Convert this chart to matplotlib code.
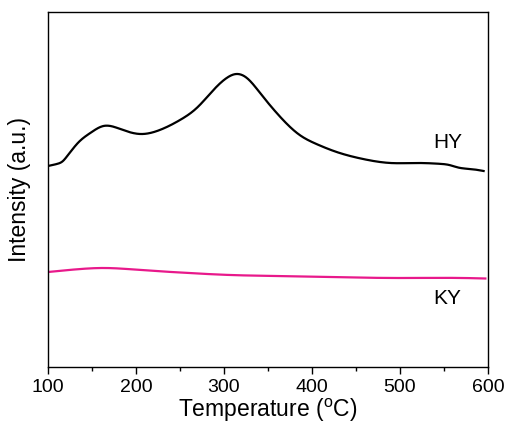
import matplotlib
matplotlib.use("Agg")
import matplotlib.pyplot as plt
import numpy as np
from matplotlib.ticker import MultipleLocator

plt.rcParams['font.family'] = ['Liberation Sans', 'DejaVu Sans']

hy_T = [100, 110, 117, 121, 135, 148, 163, 182, 205, 227, 250, 269, 288, 303, 314, 326,
        341, 364, 386, 405, 428, 458, 489, 519, 545, 556, 566, 582, 595]
hy_I = [201, 203, 206, 210, 225, 234, 241, 238, 233, 237, 247, 259, 277, 289, 293, 289,
        274, 250, 232, 223, 215, 208, 204, 204, 203.2, 202, 199.5, 197.8, 196]

ky_T = [100, 130, 163, 205, 250, 307, 360, 420, 496, 572, 597]
ky_I = [95, 97.5, 99, 97, 94.5, 92, 91, 90, 89, 89, 88.5]

xticks = [100, 200, 300, 400, 500, 600]

fig = plt.figure(figsize=(5.11, 4.30), dpi=100)
ax = fig.add_axes([48/511, 63/430, 440/511, 355/430])

def spline(x, y, n=800):
    x = np.asarray(x, float); y = np.asarray(y, float)
    N = len(x)
    h = np.diff(x)
    A = np.zeros((N, N)); b = np.zeros(N)
    A[0, 0] = 1; A[-1, -1] = 1
    for i in range(1, N - 1):
        A[i, i-1] = h[i-1]; A[i, i] = 2*(h[i-1] + h[i]); A[i, i+1] = h[i]
        b[i] = 3*((y[i+1]-y[i])/h[i] - (y[i]-y[i-1])/h[i-1])
    c = np.linalg.solve(A, b)
    bb = (y[1:]-y[:-1])/h - h*(2*c[:-1] + c[1:])/3
    dd = (c[1:] - c[:-1])/(3*h)
    xs = np.linspace(x[0], x[-1], n)
    idx = np.clip(np.searchsorted(x, xs) - 1, 0, N - 2)
    t = xs - x[idx]
    ys = y[idx] + bb[idx]*t + c[idx]*t**2 + dd[idx]*t**3
    return xs, ys

x1, y1 = spline(hy_T, hy_I)
x2, y2 = spline(ky_T, ky_I)
ax.plot(x1, y1, color='black', lw=1.6)
ax.plot(x2, y2, color='#e8198b', lw=1.6)

ax.text(554, 224, 'HY', fontsize=15, ha='center', va='center')
ax.text(554, 68, 'KY', fontsize=15, ha='center', va='center')

ax.set_xlim(100, 600)
ax.set_ylim(0, 355)
ax.set_xticks(xticks)
ax.xaxis.set_minor_locator(MultipleLocator(50))
ax.tick_params(axis='x', which='major', direction='out', length=5, labelsize=14, width=1)
ax.tick_params(axis='x', which='minor', direction='out', length=3, width=1)
ax.set_yticks([])
ax.set_xlabel('Temperature ($\\mathregular{^o}$C)', fontsize=16.5, labelpad=1)
ax.set_ylabel('Intensity (a.u.)', fontsize=16.5, labelpad=12)
for s in ax.spines.values():
    s.set_linewidth(1.0)

fig.savefig('out.png', dpi=100)
